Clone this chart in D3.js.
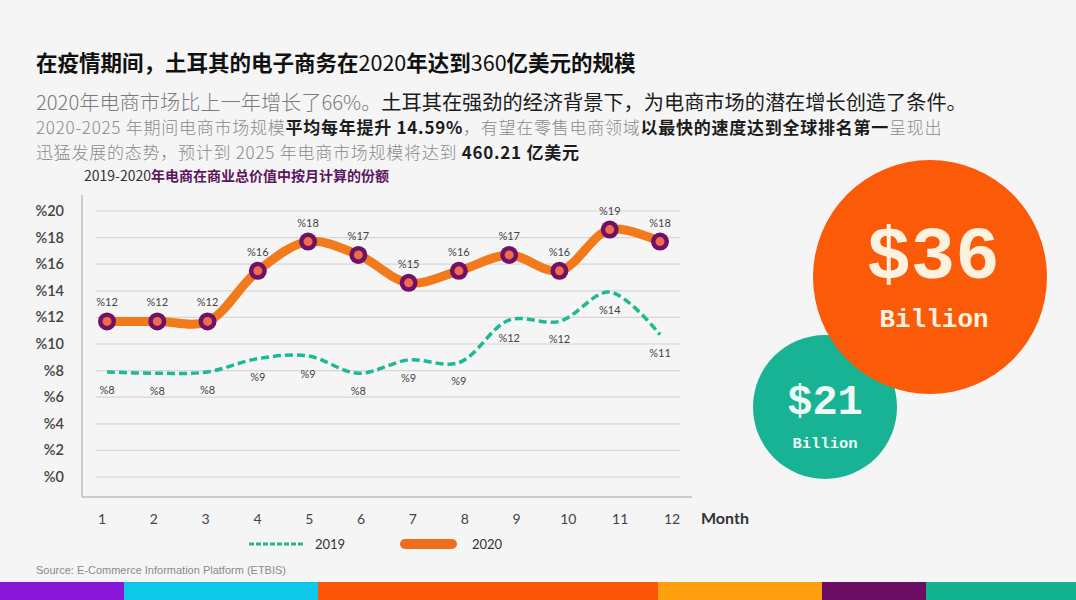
<!DOCTYPE html>
<html><head><meta charset="utf-8">
<script src="https://cdn.jsdelivr.net/npm/d3@7"></script>
<style>
html,body{margin:0;padding:0;background:#f5f5f5;}
svg{display:block;}
</style></head>
<body>
<svg id="c" width="1076" height="600"></svg>
<script>
const months = [1,2,3,4,5,6,7,8,9,10,11,12];
const values2020 = [11.7,11.7,11.7,15.5,17.7,16.7,14.6,15.5,16.7,15.5,18.6,17.7];
const labels2020 = ["%12","%12","%12","%16","%18","%17","%15","%16","%17","%16","%19","%18"];
const values2019 = [7.9,7.8,7.9,8.9,9.1,7.8,8.8,8.6,11.8,11.7,13.9,10.7];
const labels2019 = ["%8","%8","%8","%9","%9","%8","%9","%9","%12","%12","%14","%11"];
const yTicks = [0,2,4,6,8,10,12,14,16,18,20];
const seriesNames = ["2019","2020"];
const bubbleValues = [{v:"$36", unit:"Billion"},{v:"$21", unit:"Billion"}];
const stripColors = ["#8a16d8","#0ec8ea","#fb5507","#fd9f0f","#6a0d63","#12b38f"];
const stripBreaks = [0,124,318,658,822,926,1076];

const svg = d3.select("#c");
const cjk = "'Noto Sans CJK SC','Noto Sans',sans-serif";
const latin = "Lato,'Open Sans','Noto Sans',sans-serif";

svg.append("rect").attr("width",1076).attr("height",600).attr("fill","#f5f5f5");

// Title
const t = svg.append("text").attr("x",36).attr("y",71).attr("font-family",cjk).attr("font-size",21.5).attr("fill","#111").attr("font-weight",700);
t.append("tspan").text("在疫情期间，土耳其的电子商务在");
t.append("tspan").attr("font-weight",400).text("2020");
t.append("tspan").text("年达到");
t.append("tspan").attr("font-weight",400).text("360");
t.append("tspan").text("亿美元的规模");

const l2 = svg.append("text").attr("x",36).attr("y",110).attr("font-family",cjk).attr("font-size",20.2).attr("font-weight",300);
l2.append("tspan").attr("fill","#7a7a7a").text("2020年电商市场比上一年增长了66%。");
l2.append("tspan").attr("fill","#1c1c1c").attr("font-weight",400).text("土耳其在强劲的经济背景下，为电商市场的潜在增长创造了条件。");

const l3 = svg.append("text").attr("x",36).attr("y",134).attr("font-family",cjk).attr("font-size",17).attr("letter-spacing",0.75).attr("font-weight",300).attr("fill","#8a8a8a");
l3.append("tspan").text("2020-2025 年期间电商市场规模");
l3.append("tspan").attr("fill","#1c1c1c").attr("font-weight",700).text("平均每年提升 14.59%");
l3.append("tspan").text("，有望在零售电商领域");
l3.append("tspan").attr("fill","#1c1c1c").attr("font-weight",700).text("以最快的速度达到全球排名第一");
l3.append("tspan").text("呈现出");

const l4 = svg.append("text").attr("x",36).attr("y",159).attr("font-family",cjk).attr("font-size",17).attr("letter-spacing",0.75).attr("font-weight",300).attr("fill","#8a8a8a");
l4.append("tspan").text("迅猛发展的态势，预计到 2025 年电商市场规模将达到 ");
l4.append("tspan").attr("fill","#1c1c1c").attr("font-weight",700).text("460.21 亿美元");

// chart subtitle
const st = svg.append("text").attr("x",84).attr("y",181).attr("font-family",cjk).attr("font-size",14);
st.append("tspan").attr("fill","#333").text("2019-2020");
st.append("tspan").attr("fill","#5c1560").attr("font-weight",700).text("年电商在商业总价值中按月计算的份额");

// scales
const x = d3.scaleLinear().domain([1,12]).range([107,660]);
const xLab = d3.scaleLinear().domain([1,12]).range([102,672]);
const y = d3.scaleLinear().domain([0,20]).range([477,211]);

// frame
svg.append("line").attr("x1",82).attr("x2",82).attr("y1",195).attr("y2",497).attr("stroke","#bdbdbd").attr("stroke-width",1.5);
svg.append("line").attr("x1",82).attr("x2",692).attr("y1",497).attr("y2",497).attr("stroke","#bdbdbd").attr("stroke-width",1.5);

// gridlines
svg.append("g").selectAll("line").data(yTicks).join("line")
  .attr("x1",96).attr("x2",680).attr("y1",d=>y(d)).attr("y2",d=>y(d))
  .attr("stroke","#d6d6d6").attr("stroke-width",1.2);

// y labels
svg.append("g").selectAll("text").data(yTicks).join("text")
  .attr("x",64).attr("y",d=>y(d)+5).attr("text-anchor","end")
  .attr("font-family",latin).attr("font-size",14.5).attr("font-weight",600).attr("fill","#444").text(d=>"%"+d);

// x labels
svg.append("g").selectAll("text").data(months).join("text")
  .attr("x",d=>xLab(d)).attr("y",524).attr("text-anchor","middle")
  .attr("font-family",latin).attr("font-size",14).attr("fill","#444").text(d=>d);
svg.append("text").attr("x",701).attr("y",524).attr("font-family",latin).attr("font-size",16).attr("font-weight",700).attr("fill","#333").text("Month");

const line = d3.line().x((d,i)=>x(months[i])).y(d=>y(d)).curve(d3.curveCatmullRom.alpha(0.5));

// 2019
svg.append("path").datum(values2019).attr("d",line).attr("fill","none")
  .attr("stroke","#1cb995").attr("stroke-width",3.5).attr("stroke-dasharray","8,4");
svg.append("g").selectAll("text").data(values2019).join("text")
  .attr("x",(d,i)=>x(months[i])).attr("y",d=>y(d)+22).attr("text-anchor","middle")
  .attr("font-family",latin).attr("font-size",11).attr("fill","#444").text((d,i)=>labels2019[i]);

// 2020
svg.append("path").datum(values2020).attr("d",line).attr("fill","none")
  .attr("stroke","#f27a1a").attr("stroke-width",9).attr("stroke-linecap","round");
const mk = svg.append("g").selectAll("g").data(values2020).join("g")
  .attr("transform",(d,i)=>`translate(${x(months[i])},${y(d)})`);
mk.append("circle").attr("r",9).attr("fill","#6d1266");
mk.append("circle").attr("r",4.5).attr("fill","#f26a4c");
svg.append("g").selectAll("text").data(values2020).join("text")
  .attr("x",(d,i)=>x(months[i])).attr("y",d=>y(d)-15).attr("text-anchor","middle")
  .attr("font-family",latin).attr("font-size",11).attr("fill","#444").text((d,i)=>labels2020[i]);

// legend
svg.append("line").attr("x1",249).attr("x2",303).attr("y1",544).attr("y2",544)
  .attr("stroke","#1cb995").attr("stroke-width",3).attr("stroke-dasharray","5,2");
svg.append("text").attr("x",315).attr("y",549).attr("font-family",latin).attr("font-size",13).attr("fill","#333").text(seriesNames[0]);
svg.append("line").attr("x1",405).attr("x2",452).attr("y1",544).attr("y2",544)
  .attr("stroke","#ef6e1c").attr("stroke-width",10).attr("stroke-linecap","round");
svg.append("text").attr("x",472).attr("y",549).attr("font-family",latin).attr("font-size",13).attr("fill","#333").text(seriesNames[1]);

// source
svg.append("text").attr("x",36).attr("y",574).attr("font-family","'Liberation Sans',Arial,sans-serif").attr("font-size",11).attr("fill","#8a8a8a").text("Source: E-Commerce Information Platform (ETBIS)");

// bubbles
const mono = "'Liberation Mono','DejaVu Sans Mono',monospace";
svg.append("circle").attr("cx",825).attr("cy",407).attr("r",72).attr("fill","#17b394");
svg.append("circle").attr("cx",930).attr("cy",277).attr("r",117).attr("fill","#fb5a09");
svg.append("text").attr("x",933).attr("y",278).attr("text-anchor","middle").attr("font-family",mono).attr("font-weight",700).attr("font-size",74).attr("fill","#fdf1df").text(bubbleValues[0].v);
svg.append("text").attr("x",934).attr("y",327).attr("text-anchor","middle").attr("font-family",mono).attr("font-weight",700).attr("font-size",26).attr("fill","#fdf1df").text(bubbleValues[0].unit);
svg.append("text").attr("x",825).attr("y",414).attr("text-anchor","middle").attr("font-family",mono).attr("font-weight",700).attr("font-size",42).attr("fill","#eefaf5").text(bubbleValues[1].v);
svg.append("text").attr("x",825).attr("y",448).attr("text-anchor","middle").attr("font-family",mono).attr("font-weight",700).attr("font-size",15.5).attr("fill","#eefaf5").text(bubbleValues[1].unit);

// bottom strip
svg.append("g").selectAll("rect").data(stripColors).join("rect")
  .attr("x",(d,i)=>stripBreaks[i]).attr("width",(d,i)=>stripBreaks[i+1]-stripBreaks[i])
  .attr("y",582).attr("height",18).attr("fill",d=>d);
</script>
</body></html>
